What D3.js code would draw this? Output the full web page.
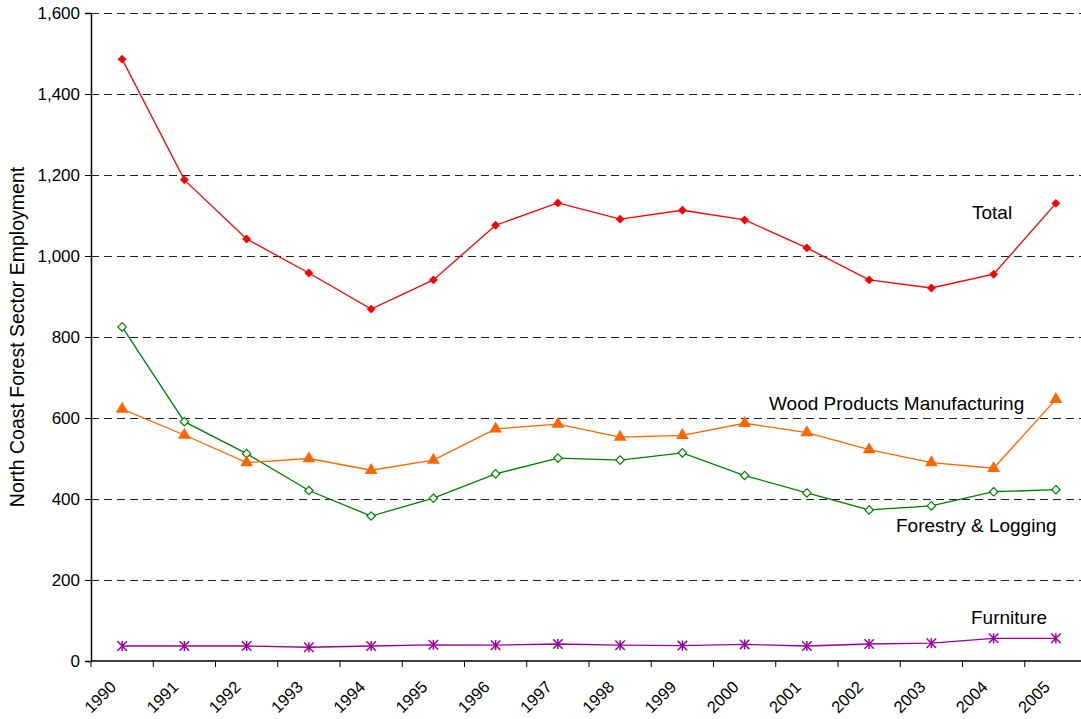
<!DOCTYPE html>
<html><head><meta charset="utf-8">
<script src="https://cdn.jsdelivr.net/npm/d3@7"></script>
<style>
body{margin:0;background:#fff;}
text{font-family:"Liberation Sans",Arial,sans-serif;fill:#000;}
</style></head>
<body><svg id="c" width="1081" height="719"></svg>
<script>
const years = ["1990","1991","1992","1993","1994","1995","1996","1997","1998","1999","2000","2001","2002","2003","2004","2005"];
const total    = [1486,1188,1042,958,869,941,1076,1131,1091,1113,1089,1020,941,921,955,1130];
const wood     = [622,558,490,500,471,496,573,585,553,557,587,564,522,490,476,646];
const forestry = [825,591,512,421,358,402,462,501,496,514,458,415,373,383,418,423];
const furniture= [37,37,37,34,37,40,39,42,39,38,41,37,42,44,56,56];
const yTicks = [0,200,400,600,800,1000,1200,1400,1600];
const yTitle = "North Coast Forest Sector Employment";

const svg = d3.select("#c");
const L=91, R=1087, T=13, B=661;
const x = d3.scaleBand().domain(years).range([L,R]).padding(0);
const y = d3.scaleLinear().domain([0,1600]).range([B,T]);
const cx = d => x(d)+x.bandwidth()/2;

// gridlines
svg.append("g").selectAll("line").data(yTicks.filter(v=>v>0)).join("line")
  .attr("x1",L).attr("x2",R).attr("y1",d=>Math.round(y(d))+0.5).attr("y2",d=>Math.round(y(d))+0.5)
  .attr("stroke","#222").attr("stroke-width",1).attr("stroke-dasharray","8,5");

// y axis
const ya = svg.append("g").attr("transform",`translate(${L},0)`)
  .call(d3.axisLeft(y).tickValues(yTicks).tickFormat(d3.format(",")).tickSize(6).tickPadding(5));
ya.select(".domain").attr("stroke","#000").attr("stroke-width",1.5);
ya.selectAll(".tick line").attr("stroke","#000");
ya.selectAll("text").style("font-size","17px").attr("fill","#000");

// x axis
const xa = svg.append("g").attr("transform",`translate(0,${B})`)
  .call(d3.axisBottom(x).tickSize(0).tickPadding(0));
xa.select(".domain").attr("stroke","#000").attr("stroke-width",1.5).attr("d",`M${L},0H${R}`);
xa.selectAll(".tick line").remove();
xa.selectAll(".tick text").style("font-size","16.5px").attr("text-anchor","end")
  .attr("dy",0).attr("y",0)
  .attr("transform","translate(-5,27) rotate(-45)");
svg.append("g").selectAll("line").data(years.concat(["end"])).join("line")
  .attr("x1",(d,i)=>L+i*x.bandwidth()).attr("x2",(d,i)=>L+i*x.bandwidth())
  .attr("y1",B).attr("y2",B+6).attr("stroke","#000");

// y title
svg.append("text").attr("transform","translate(24,337) rotate(-90)")
  .attr("text-anchor","middle").style("font-size","19.5px").text(yTitle);

const line = d3.line().x((d,i)=>cx(years[i])).y(d=>y(d));

function series(data,color,marker){
  svg.append("path").datum(data).attr("d",line).attr("fill","none").attr("stroke",color).attr("stroke-width",1.3);
  const g = svg.append("g");
  data.forEach((v,i)=>{
    const px=cx(years[i]), py=y(v);
    if(marker==="diamondFill"){
      g.append("path").attr("d",d3.symbol(d3.symbolDiamond2,50)()).attr("transform",`translate(${px},${py})`).attr("fill",color);
    } else if(marker==="diamondOpen"){
      g.append("path").attr("d",d3.symbol(d3.symbolDiamond2,45)()).attr("transform",`translate(${px},${py})`).attr("fill","#fff").attr("stroke",color).attr("stroke-width",1.2);
    } else if(marker==="triangle"){
      g.append("path").attr("d",d3.symbol(d3.symbolTriangle,70)()).attr("transform",`translate(${px},${py})`).attr("fill",color);
    } else if(marker==="star"){
      g.append("path").attr("d",d3.symbol(d3.symbolTimes,60)()).attr("transform",`translate(${px},${py})`).attr("fill","none").attr("stroke",color).attr("stroke-width",1.5);
      g.append("line").attr("x1",px).attr("x2",px).attr("y1",py-5).attr("y2",py+5).attr("stroke",color).attr("stroke-width",1.5);
    }
  });
}
series(furniture,"#990099","star");
series(forestry,"#008000","diamondOpen");
series(wood,"#FF6600","triangle");
series(total,"#FF0000","diamondFill");

// labels
const labels=[["Total",972,219],["Wood Products Manufacturing",769,410],["Forestry & Logging",896,532],["Furniture",971,624]];
svg.append("g").selectAll("text").data(labels).join("text")
  .attr("x",d=>d[1]).attr("y",d=>d[2]).style("font-size","19px").text(d=>d[0]);
</script></body></html>
